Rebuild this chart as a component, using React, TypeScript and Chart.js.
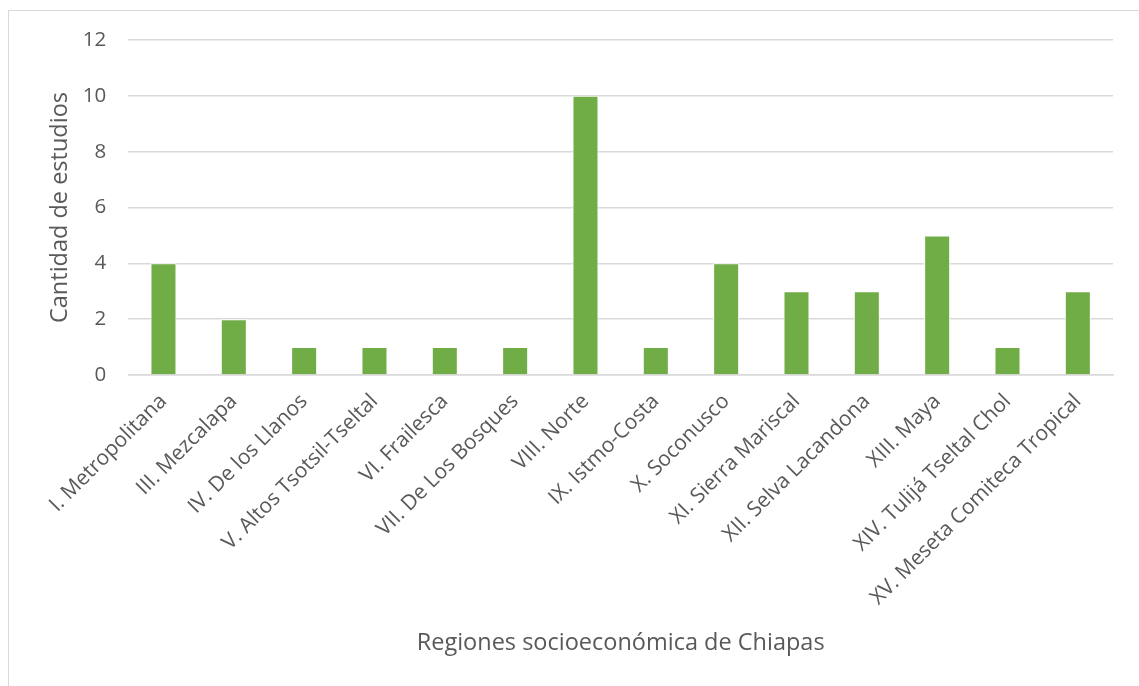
import React, { useEffect, useRef } from "react";
import { Chart, registerables } from "chart.js";

Chart.register(...registerables);

const categories: string[] = [
  "I. Metropolitana",
  "III. Mezcalapa",
  "IV. De los Llanos",
  "V. Altos Tsotsil-Tseltal",
  "VI. Frailesca",
  "VII. De Los Bosques",
  "VIII. Norte",
  "IX. Istmo-Costa",
  "X. Soconusco",
  "XI. Sierra Mariscal",
  "XII. Selva Lacandona",
  "XIII. Maya",
  "XIV. Tulijá Tseltal Chol",
  "XV. Meseta Comiteca Tropical",
];

const estudios: number[] = [4, 2, 1, 1, 1, 1, 10, 1, 4, 3, 3, 5, 1, 3];

const yTitle = "Cantidad de estudios";
const xTitle = "Regiones socioeconómica de Chiapas";

const FONT = "'Open Sans', sans-serif";
const TEXT = "#595959";
const GRID = "#d9d9d9";

export default function App() {
  const ref = useRef<HTMLCanvasElement | null>(null);

  useEffect(() => {
    if (!ref.current) return;
    const chart = new Chart(ref.current, {
      type: "bar",
      data: {
        labels: categories,
        datasets: [
          {
            label: yTitle,
            data: estudios,
            backgroundColor: "#70AD47",
            borderColor: "#ffffff",
            borderWidth: 1,
            barPercentage: 0.37,
            categoryPercentage: 1,
          },
        ],
      },
      options: {
        animation: false,
        responsive: true,
        maintainAspectRatio: false,
        layout: { padding: { left: 33, right: 26, top: 29, bottom: 25 } },
        plugins: {
          legend: { display: false },
          tooltip: { enabled: false },
        },
        scales: {
          x: {
            grid: { display: false, drawTicks: false },
            border: { display: true, color: GRID, width: 1.5 },
            ticks: {
              autoSkip: false,
              minRotation: 45,
              maxRotation: 45,
              padding: 14,
              color: TEXT,
              font: { family: FONT, size: 21 },
            },
            title: {
              display: true,
              text: xTitle,
              color: TEXT,
              font: { family: FONT, size: 23.5 },
              padding: 4,
            },
            afterFit: (scale: any) => {
              scale.height = 286;
              scale.paddingLeft = 0;
              scale.paddingRight = 0;
              scale.paddingTop = 0;
              scale.paddingBottom = 0;
            },
          },
          y: {
            min: 0,
            max: 12,
            ticks: {
              stepSize: 2,
              padding: 22,
              color: TEXT,
              font: { family: FONT, size: 20.5 },
            },
            grid: { color: GRID, lineWidth: 1.5, drawTicks: false },
            border: { display: false },
            title: {
              display: true,
              text: yTitle,
              color: TEXT,
              font: { family: FONT, size: 23.5 },
              padding: 4,
            },
            afterFit: (scale: any) => {
              scale.width = 86.3;
              scale.paddingTop = 0;
              scale.paddingBottom = 0;
            },
          },
        },
      },
    });
    return () => chart.destroy();
  }, []);

  return (
    <div
      style={{
        position: "absolute",
        left: 8,
        top: 10,
        width: 1131,
        height: 676,
        boxSizing: "border-box",
        borderTop: "1px solid #d9d9d9",
        borderLeft: "1px solid #d9d9d9",
        background: "#ffffff",
      }}
    >
      <div style={{ position: "relative", width: 1130, height: 675 }}>
        <canvas ref={ref} />
      </div>
    </div>
  );
}
